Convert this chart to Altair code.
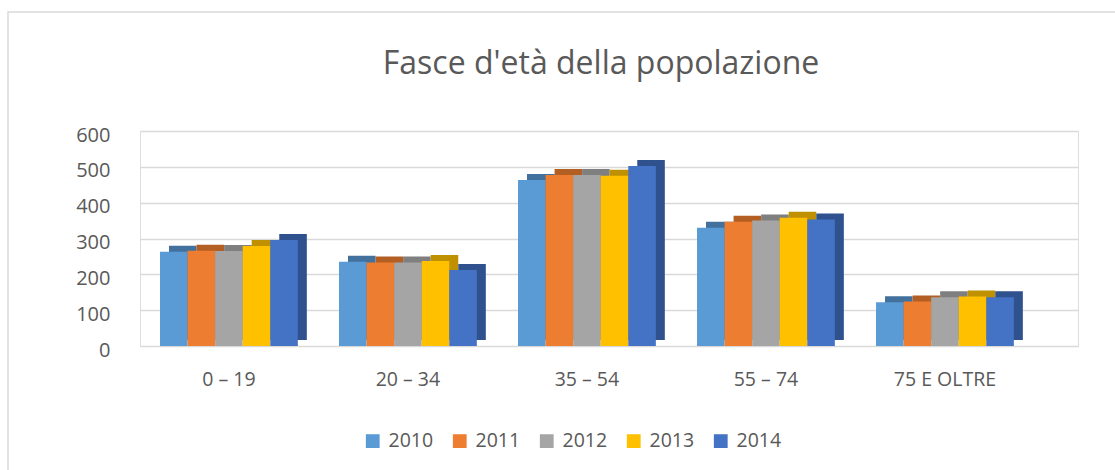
import altair as alt
import pandas as pd

categories = ["0 – 19", "20 – 34", "35 – 54", "55 – 74", "75 E OLTRE"]
years = ["2010", "2011", "2012", "2013", "2014"]
v2010 = [263, 235, 463, 330, 122]
v2011 = [266, 233, 477, 347, 124]
v2012 = [265, 233, 477, 350, 136]
v2013 = [279, 237, 475, 358, 138]
v2014 = [296, 212, 502, 353, 136]

colors = ["#5B9BD5", "#ED7D31", "#A5A5A5", "#FFC000", "#4472C4"]
dark = ["#41719C", "#B35E22", "#7F7F7F", "#BF9000", "#2F528F"]

series = [v2010, v2011, v2012, v2013, v2014]
rows = []
for y, vals in zip(years, series):
    for c, v in zip(categories, vals):
        rows.append({"cat": c, "year": y, "value": v})
df = pd.DataFrame(rows)

FONT = "Open Sans"
TXT = "#595959"

STEP = 179
BANDW = STEP * (1 - 0.23)

x_enc = alt.X("cat:N", sort=categories, title=None,
              scale=alt.Scale(paddingInner=0.23, paddingOuter=0.235, align=0.2376),
              axis=alt.Axis(labelAngle=0, ticks=False, domain=False, labelPadding=24,
                            labelFontSize=19.5, labelColor=TXT, labelFont=FONT))
y_enc = alt.Y("value:Q", title=None,
              scale=alt.Scale(domain=[0, 600], nice=False),
              axis=alt.Axis(values=[0, 100, 200, 300, 400, 500, 600], ticks=False, domain=False,
                            labelPadding=30, labelOffset=4, labelFontSize=20, labelColor=TXT,
                            labelFont=FONT, gridColor="#D9D9D9", gridWidth=1.5))

base = alt.Chart(df)

shadow = base.mark_bar(yOffset=-6).encode(
    x=x_enc, y=y_enc,
    xOffset=alt.XOffset("year:N", sort=years,
                        scale=alt.Scale(range=[9, 9 + BANDW], paddingInner=0, paddingOuter=0)),
    color=alt.Color("year:N", sort=years, scale=alt.Scale(domain=years, range=dark), legend=None),
)

front = base.mark_bar().encode(
    x=x_enc, y=y_enc,
    xOffset=alt.XOffset("year:N", sort=years, scale=alt.Scale(paddingInner=0, paddingOuter=0)),
    color=alt.Color("year:N", sort=years, scale=alt.Scale(domain=years, range=colors),
                    legend=alt.Legend(title=None, orient="none", direction="horizontal",
                                      legendX=223, legendY=300,
                                      symbolType="square", symbolSize=190, symbolStrokeWidth=0,
                                      labelFontSize=19.5, labelColor=TXT, labelFont=FONT,
                                      labelOffset=6, columnPadding=16)),
)

frame = alt.Chart(pd.DataFrame({"k": [0]})).mark_rect(
    fill=None, stroke="#D9D9D9", strokeWidth=1.5, clip=False
).encode(x=alt.value(-132), x2=alt.value(1100), y=alt.value(-119), y2=alt.value(400))

chart = alt.layer(frame, shadow, front).resolve_scale(
    color="independent", xOffset="independent"
).properties(
    width=938, height=215,
    autosize=alt.AutoSizeParams(type="none"),
    padding={"left": 140, "top": 131, "right": 37, "bottom": 124},
    title=alt.TitleParams("Fasce d'età della popolazione", anchor="middle", frame="group",
                          fontSize=32, font=FONT, fontWeight="normal", color=TXT,
                          offset=-70, dx=-8),
).configure_view(stroke=None).configure(background="white")

chart.save("out.html", embed_options={"renderer": "svg", "actions": False})
